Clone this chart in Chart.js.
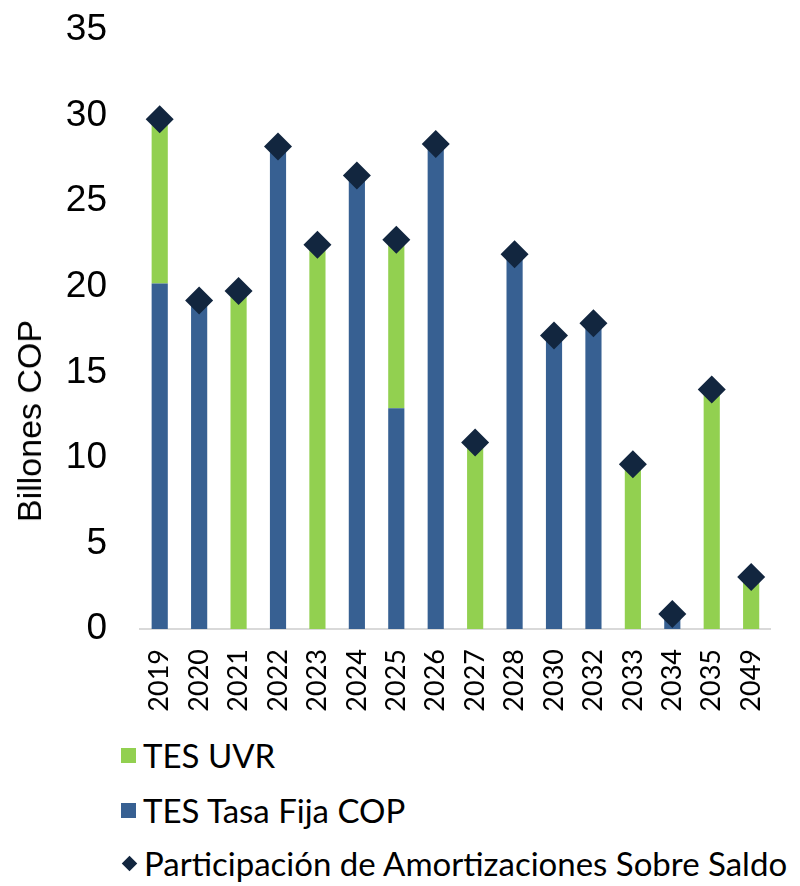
<!DOCTYPE html>
<html>
<head>
<meta charset="utf-8">
<script src="https://cdn.jsdelivr.net/npm/chart.js@4.4.0/dist/chart.umd.min.js"></script>
<style>
  html, body { margin: 0; padding: 0; background: #fff; overflow: hidden; width: 800px; height: 886px; }
  #wrap { position: absolute; left: 0; top: -25px; width: 804px; height: 760px; }
  #ytitle { position: absolute; left: 29px; top: 421px; transform: translate(-50%, -50%) rotate(-90deg);
            font-family: "Liberation Sans", Arial, sans-serif; font-size: 34px; line-height: 1; white-space: nowrap; color: #000; }
  #legend { position: absolute; left: 0; top: 735px; width: 800px; font-family: Lato, "Open Sans", sans-serif; font-size: 33px; color: #000; }
  .item { position: absolute; left: 121px; height: 40px; display: flex; align-items: center; white-space: nowrap; }
  .sw { width: 15px; height: 15px; margin-right: 7px; flex: none; }
  .dia { width: 11px; height: 11px; margin: 0 9px 0 3px; transform: rotate(45deg); flex: none; }
</style>
</head>
<body>
<div id="wrap"><canvas id="c" width="804" height="760"></canvas></div>
<div id="ytitle"></div>
<div id="legend"></div>
<script>
const categories = ['2019','2020','2021','2022','2023','2024','2025','2026','2027','2028','2030','2032','2033','2034','2035','2049'];
const tesUVR =       [9.6, null, 19.75, null, 22.46, null, 9.85, null, 10.9, null, null, null, 9.63, null, 14.0, 3.04];
const tesTasaFija =  [20.2, 19.2, null, 28.2, null, 26.5, 12.9, 28.35, null, 21.9, 17.15, 17.87, null, 0.87, null, null];
const participacion = [29.8, 19.2, 19.75, 28.2, 22.46, 26.5, 22.75, 28.35, 10.9, 21.9, 17.15, 17.87, 9.63, 0.87, 14.0, 3.04];
const yTicks = [0, 5, 10, 15, 20, 25, 30, 35];
const yTitle = 'Billones COP';

const GREEN = '#92D050', BLUE = '#376092', NAVY = '#12263F';

const chart = new Chart(document.getElementById('c'), {
  data: {
    labels: categories,
    datasets: [
      { type: 'line', label: 'Participación de Amortizaciones Sobre Saldo', data: participacion,
        showLine: false, pointStyle: 'rectRot', pointRadius: 14, pointHoverRadius: 14,
        backgroundColor: NAVY, borderColor: NAVY, borderWidth: 0, stack: 'line', order: 0 },
      { type: 'bar', label: 'TES Tasa Fija COP', data: tesTasaFija, backgroundColor: BLUE, stack: 'bars', order: 1 },
      { type: 'bar', label: 'TES UVR', data: tesUVR, backgroundColor: GREEN, stack: 'bars', order: 2 }
    ]
  },
  options: {
    responsive: false,
    animation: false,
    layout: { padding: { top: 5, left: 0, right: 0, bottom: 0 } },
    datasets: { bar: { categoryPercentage: 1, barPercentage: 0.41 } },
    plugins: { legend: { display: false }, tooltip: { enabled: false } },
    scales: {
      x: {
        stacked: true,
        offset: true,
        grid: { display: false, drawTicks: false },
        border: { display: true, color: '#D9D9D9', width: 2 },
        ticks: { minRotation: 90, maxRotation: 90, padding: 20, color: '#000',
                 font: { family: 'Lato', size: 27 } },
        afterFit: (s) => { s.height = 106; }
      },
      y: {
        stacked: true,
        min: 0, max: 35,
        afterBuildTicks: (s) => { s.ticks = yTicks.map(v => ({ value: v })); },
        grid: { display: false, drawTicks: false },
        border: { display: false },
        ticks: { padding: 33, color: '#000', font: { family: 'Liberation Sans', size: 37 } },
        title: { display: false, text: yTitle },
        afterFit: (s) => { s.width = 140; }
      }
    }
  }
});

document.getElementById('ytitle').textContent = yTitle;

// HTML legend built from the chart's datasets (display order as in the reference)
const legendOrder = [2, 1, 0];
const tops = [0, 55, 108];
const lg = document.getElementById('legend');
legendOrder.forEach((di, i) => {
  const ds = chart.data.datasets[di];
  const item = document.createElement('div');
  item.className = 'item';
  item.style.top = tops[i] + 'px';
  const sw = document.createElement('span');
  sw.className = ds.type === 'line' ? 'dia' : 'sw';
  sw.style.background = ds.backgroundColor;
  const tx = document.createElement('span');
  tx.textContent = ds.label;
  item.appendChild(sw); item.appendChild(tx);
  lg.appendChild(item);
});
</script>
</body>
</html>
